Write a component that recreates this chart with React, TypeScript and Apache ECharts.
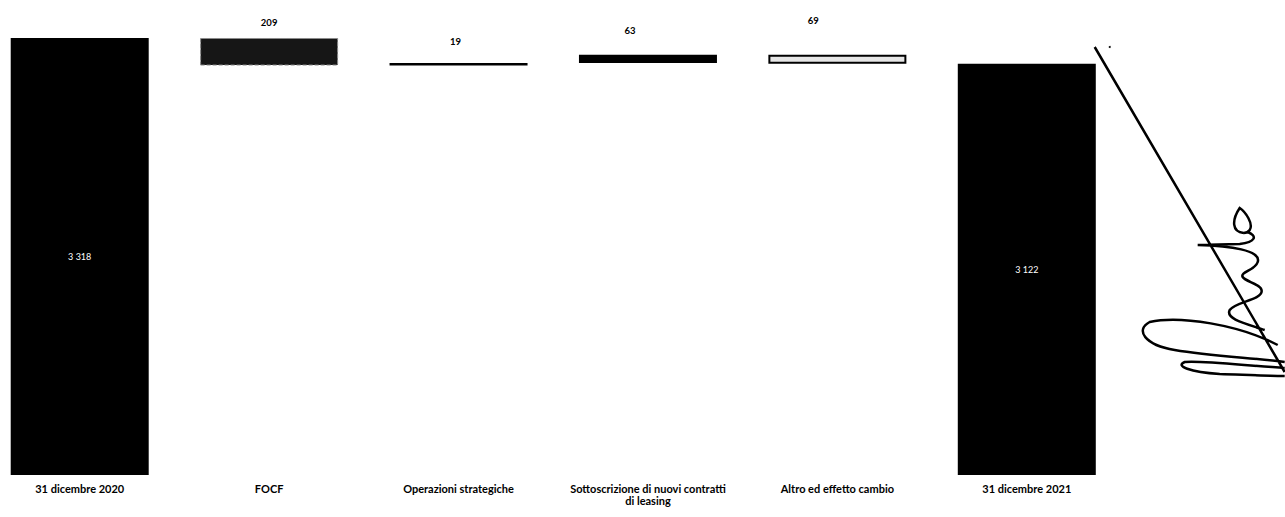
import React, { useEffect, useRef } from "react";
import * as echarts from "echarts";

// Net debt bridge, 31/12/2020 -> 31/12/2021
const categories = [
  "31 dicembre 2020",
  "FOCF",
  "Operazioni strategiche",
  "Sottoscrizione di nuovi contratti\ndi leasing",
  "Altro ed effetto cambio",
  "31 dicembre 2021",
];
const openingDebt = 3318;
const movements = [-209, 19, 63, -69];
const closingDebt = 3122;

const SHIFT = 14.7; // the chart canvas starts slightly left of the page edge

const fmt = (v: number) => {
  const s = Math.round(Math.abs(v)).toString();
  return s.replace(/\B(?=(\d{3})+(?!\d))/g, " ");
};

// hand-drawn signature in the right margin
const SIGNATURE =
  "M1095 47 L1285 372 " +
  "M1244 233 C1232 232 1232 220 1240 208 C1246 212 1254 224 1250 230 C1248 233 1244 233 1244 233 " +
  "M1248 232 C1258 236 1256 242 1240 244 L1198 245 C1230 246 1262 250 1258 262 C1256 270 1240 272 1243 277 C1246 282 1262 284 1262 291 C1262 300 1235 302 1230 310 C1226 318 1240 322 1265 330 " +
  "M1278 345 C1240 325 1180 315 1150 322 C1135 330 1145 345 1175 350 C1210 356 1255 358 1285 362 " +
  "M1285 368 C1250 366 1200 360 1185 362 C1175 366 1190 372 1220 374 C1250 375 1275 376 1285 376";

echarts.graphic.registerShape("signature", echarts.graphic.extendPath(SIGNATURE, {}));

export default function App() {
  const ref = useRef<HTMLDivElement>(null);

  useEffect(() => {
    if (!ref.current) return;
    const chart = echarts.init(ref.current, null, { renderer: "svg" });

    // waterfall: invisible base + visible step
    const base: number[] = [0];
    const height: number[] = [openingDebt];
    let running = openingDebt;
    movements.forEach((d) => {
      const next = running + d;
      base.push(Math.min(running, next));
      height.push(Math.abs(d));
      running = next;
    });
    base.push(0);
    height.push(closingDebt);

    const styles = [
      { color: "#000" },
      { color: "#161616", borderColor: "#8a8a8a", borderWidth: 1, borderType: "dashed" },
      { color: "#000" },
      { color: "#000" },
      { color: "#e6e6e6", borderColor: "#000", borderWidth: 2 },
      { color: "#000" },
    ];
    const labelTweaks = [
      null,
      { distance: 10, offset: [0, 0] },
      { distance: 17, offset: [-3, 0] },
      { distance: 19, offset: [-18, 0] },
      { distance: 29, offset: [-24, 0] },
      null,
    ];
    const signed = [openingDebt, ...movements, closingDebt];

    const visibleData = height.map((h, i) => {
      const isTotal = i === 0 || i === height.length - 1;
      return {
        value: h,
        itemStyle: styles[i],
        label: isTotal
          ? {
              show: true,
              position: "inside",
              color: "#fff",
              fontSize: 9,
              fontFamily: "Lato",
              formatter: () => fmt(signed[i]),
            }
          : {
              show: true,
              position: "top",
              distance: labelTweaks[i]!.distance,
              offset: labelTweaks[i]!.offset,
              color: "#000",
              fontSize: 9.5,
              fontWeight: "bold",
              fontFamily: "Lato",
              formatter: () => fmt(signed[i]),
            },
      };
    });

    chart.setOption({
      animation: false,
      backgroundColor: "#fff",
      grid: { left: 0, width: 1136.5, top: 27.2, bottom: 42 },
      xAxis: {
        type: "category",
        data: categories,
        axisLine: { show: false },
        axisTick: { show: false },
        axisLabel: {
          interval: 0,
          margin: 7,
          color: "#000",
          fontSize: 11,
          fontWeight: "bold",
          fontFamily: "Lato",
          lineHeight: 12,
        },
      },
      yAxis: { type: "value", min: 0, max: 3400, show: false, splitLine: { show: false } },
      series: [
        {
          type: "bar",
          stack: "bridge",
          barWidth: 138,
          data: base,
          itemStyle: { color: "transparent" },
          silent: true,
        },
        {
          type: "bar",
          stack: "bridge",
          barWidth: 138,
          data: visibleData,
        },
      ],
      graphic: [
        {
          type: "signature",
          x: SHIFT,
          y: 0,
          style: { fill: "none", stroke: "#000", lineWidth: 2.5 },
        },
        { type: "circle", shape: { cx: 1110 + SHIFT, cy: 47, r: 1 }, style: { fill: "#000" } },
      ],
    });

    return () => chart.dispose();
  }, []);

  return (
    <div
      ref={ref}
      style={{ position: "fixed", left: -SHIFT, top: 0, width: 1285 + SHIFT, height: 517 }}
    />
  );
}
